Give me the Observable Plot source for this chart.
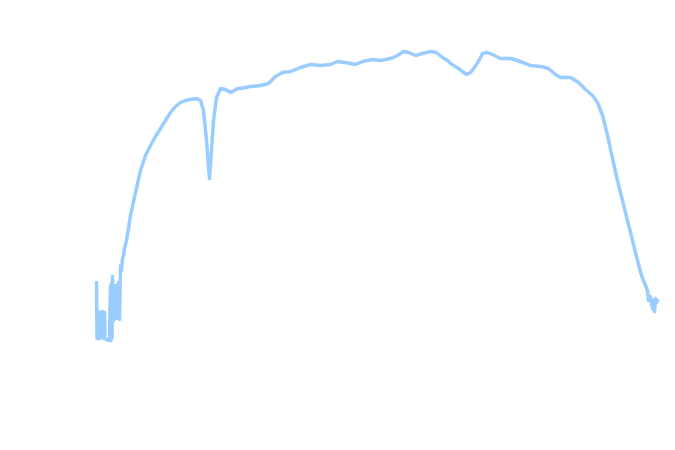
<!DOCTYPE html>
<html>
<head>
<meta charset="utf-8">
<script src="https://cdn.jsdelivr.net/npm/d3@7"></script>
<script src="https://cdn.jsdelivr.net/npm/@observablehq/plot@0.6"></script>
<style>
body { margin: 0; background: #fff; }
</style>
</head>
<body>
<div id="chart"></div>
<script>
// Position along the spectrum (arbitrary units) and signal level
const xs = [0, 0.5, 1, 1.5, 2, 3, 4, 5, 6, 7, 8, 8.5, 10, 12, 13, 14, 14.5, 15, 15.5, 16, 17, 18, 19, 20, 21, 22, 23, 24, 25, 26, 27, 28, 30,
  34, 39, 44, 49, 54, 59, 64, 69, 74, 79, 84, 89, 94, 100, 104, 107, 110, 113, 115, 117, 120, 124, 129, 134, 138, 141,
  144, 154, 164, 172, 179, 186, 194, 204, 214, 224, 234, 241, 249, 259, 266, 276, 284, 294, 297, 301, 307, 312, 319, 326, 334,
  340, 346, 351, 354, 362, 370, 374, 380, 384, 386, 391, 398, 404, 414, 421, 429, 434, 444, 452, 459, 464, 474, 482, 489,
  496, 501, 506, 511, 516, 521, 526, 531, 536, 541, 545, 549, 551, 552, 554, 555, 556, 557, 558, 559, 560, 561, 562];
const ys = [168, 112, 138, 112, 139, 112, 138, 113, 139, 112, 138, 112, 111, 110, 110, 165, 110, 167, 112, 174, 130, 165, 132, 165, 132, 168, 131, 185, 180, 192, 195, 202, 210,
  235, 258, 280, 295, 305, 314, 322, 330, 338, 344, 348, 350, 351, 352, 350, 340, 310, 272, 300, 330, 353, 362, 361, 358, 360, 362,
  362, 364, 365, 367, 374, 378, 379, 383, 386, 385, 386, 389, 388, 386, 389, 391, 390, 392, 393, 395, 399, 398, 395, 397, 399,
  398, 393, 390, 387, 382, 376, 378, 386, 393, 397, 398, 395, 392, 392, 390, 387, 385, 384, 382, 376, 373, 373, 368,
  361, 355, 348, 335, 315, 292, 270, 250, 230, 210, 190, 175, 165, 160, 150, 154, 148, 142, 150, 139, 152, 148, 150];

const data = xs.map((x, i) => ({x, y: ys[i]}));

const chart = Plot.plot({
  width: 675,
  height: 450,
  marginTop: 0,
  marginRight: 0,
  marginBottom: 0,
  marginLeft: 0,
  x: {domain: [-96, 579], axis: null},
  y: {domain: [0, 450], axis: null},
  marks: [
    Plot.line(data, {x: "x", y: "y", stroke: "#99ccff", strokeWidth: 3.5, curve: "linear"})
  ]
});
document.getElementById("chart").appendChild(chart);
</script>
</body>
</html>
